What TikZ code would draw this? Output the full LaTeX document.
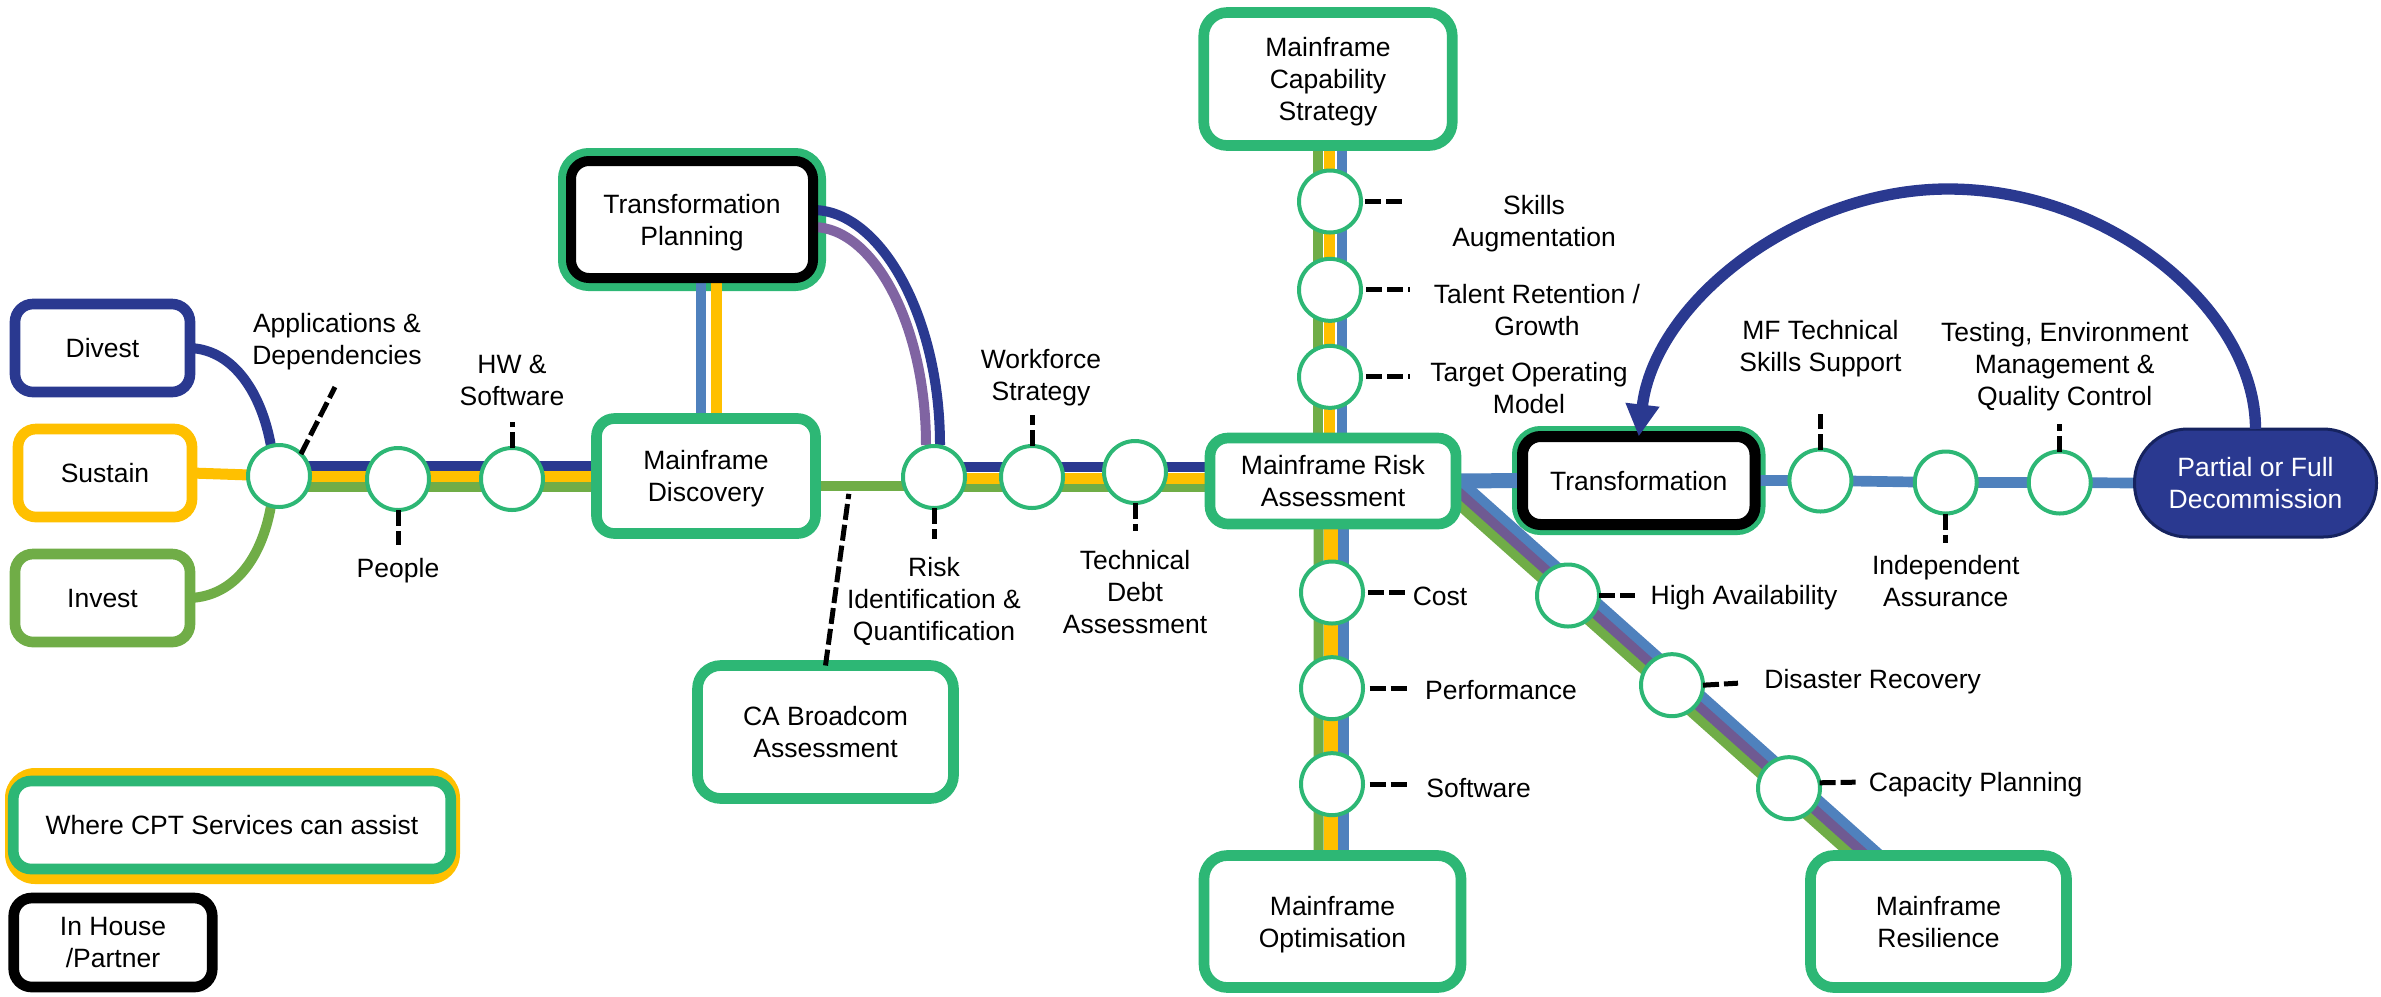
\documentclass[tikz,border=0pt]{standalone}
\usepackage{fontspec}
\setmainfont{Liberation Sans}
\usetikzlibrary{positioning,arrows.meta,backgrounds}
\definecolor{cptgreen}{HTML}{2DB775}
\definecolor{cptnavy}{HTML}{2A3990}
\definecolor{cptdark}{HTML}{16235F}
\definecolor{cptyellow}{HTML}{FFC000}
\definecolor{cptlime}{HTML}{70AD47}
\definecolor{cptblue}{HTML}{4F81BD}
\definecolor{cptpurple}{HTML}{8064A2}
\definecolor{cptplum}{HTML}{6F5A92}
\tikzset{
    txt/.style={font=\fontsize{7.95}{9.6}\selectfont,align=center,inner sep=0pt,outer sep=0pt,text depth=0pt},
    boxsize/.style 2 args={minimum width=#1*0.3pt,minimum height=#2*0.3pt},
    box/.style={txt,draw=cptgreen,fill=white,line width=3.2pt,rounded corners=5.4pt},
    bigbox/.style={box,rounded corners=7pt},
    blackbox/.style={box,draw=black},
    ringbox/.style={draw=cptgreen,line width=#1,rounded corners=5.4pt,inner sep=0pt,outer sep=0pt},
    stn/.style={circle,draw=cptgreen,fill=white,line width=1.2pt,minimum size=18.6pt,inner sep=0pt,outer sep=0pt},
    lbl/.style={txt},
    tick/.style={draw=black,line width=1.5pt,dash pattern=on 4.8pt off 1.5pt},
    navyln/.style={draw=cptnavy,line width=3pt},
    yelln/.style={draw=cptyellow,line width=3.3pt},
    limeln/.style={draw=cptlime,line width=3pt},
    bluln/.style={draw=cptblue,line width=3.2pt},
    purln/.style={draw=cptpurple,line width=3pt},
    plumln/.style={draw=cptplum,line width=2.9pt}
}
\begin{document}
\begin{tikzpicture}[x=0.3pt,y=-0.3pt,on grid]
    \useasboundingbox (0,0) rectangle (2381,996);
    \node[box,draw=cptnavy,boxsize={175}{88}] (divest) at (102.5,348) {Divest};
    \node[box,draw=cptyellow,boxsize={174}{88}] (sustain) at (105,473) {Sustain};
    \node[box,draw=cptlime,boxsize={175}{88}] (invest) at (102.5,598) {Invest};
    \node[stn] (apps) at (279,476) {};
    \node[stn] (people)[below right=0.9pt and 35.7pt of apps] {};
    \node[stn] (hw)[right=34.2pt of people] {};
    \node[box,boxsize={219}{115}] (disc) at (706,476) {Mainframe\\Discovery};
    \node[blackbox,boxsize={242}{117},line width=3pt] (tp) at (692,219.5) {Transformation\\Planning};
    \node[bigbox,boxsize={256}{133}] (ca) at (825.5,732) {CA Broadcom\\Assessment};
    \node[stn] (rid) at (934,477) {};
    \node[stn] (wf)[right=29.4pt of rid] {};
    \node[stn] (tech)[above right=1.5pt and 30.9pt of wf] {};
    \node[box,boxsize={246}{86}] (risk) at (1333,481) {Mainframe Risk\\Assessment};
    \node[bigbox,boxsize={248.5}{133}] (cap) at (1328,79) {Mainframe\\Capability\\Strategy};
    \node[stn] (skills) at (1330,201.5) {};
    \node[stn] (talent)[below=26.5pt of skills] {};
    \node[stn] (tom)[below=26.1pt of talent] {};
    \node[stn] (cost) at (1332,592.5) {};
    \node[stn] (perf)[below=28.7pt of cost] {};
    \node[stn] (soft)[below=28.8pt of perf] {};
    \node[bigbox,boxsize={257}{132}] (opt) at (1332.5,921.5) {Mainframe\\Optimisation};
    \node[stn] (ha) at (1568,595.5) {};
    \node[stn] (dr)[below right=26.9pt and 31.2pt of ha] {};
    \node[stn] (cp)[below right=30.9pt and 35.1pt of dr] {};
    \node[bigbox,boxsize={256}{132}] (res) at (1938.5,921.5) {Mainframe\\Resilience};
    \node[blackbox,boxsize={232.5}{88},line width=3.3pt] (trans) at (1638.75,480.5) {Transformation};
    \node[stn] (mf)[right=54.5pt of trans] {};
    \node[stn] (ind)[below right=0.6pt and 37.6pt of mf] {};
    \node[stn] (test)[right=34.2pt of ind] {};
    \node[txt,fill=cptnavy,draw=cptdark,line width=0.9pt,rounded corners=16pt,text=white,boxsize={242}{108}] (decom) at (2255.5,483) {Partial or Full\\Decommission};
    \node[fill=cptyellow,rounded corners=9pt,inner sep=0pt,boxsize={455}{116}] (legback) at (232.5,826) {};
    \node[box,boxsize={437.5}{88}] (legcpt) at (232,825) {Where CPT Services can assist};
    \node[blackbox,boxsize={198.5}{89}] (leghouse) at (113,942.5) {In House\\/Partner};

    \begin{scope}[on background layer]
        \node[ringbox=7.8pt,boxsize={242}{117}] (tpring) at (tp) {};
        \node[ringbox=6.3pt,boxsize={232.5}{88}] (transring) at (trans) {};
        \draw[navyln] (divest.east) .. controls +(45,2) and +(-9,-51) .. (apps.105);
        \draw[limeln] (invest.east) .. controls +(45,-2) and +(-9,51) .. (apps.255);
        \draw[yelln] (sustain.east) -- (apps);
        \draw[navyln] ([shift={(0,-10)}]apps.center) -- ([shift={(0,-10)}]disc.center);
        \draw[limeln] ([shift={(0,11)}]apps.center) -- ([shift={(0,11)}]disc.center);
        \draw[yelln] (apps) -- (disc);
        \draw[bluln] ([shift={(9,0)}]tp.center) -- ([shift={(-5,0)}]disc.center);
        \draw[yelln] ([shift={(24,0)}]tp.center) -- ([shift={(10,0)}]disc.center);
        \draw[navyln] ([shift={(0,-9.5)}]tp.east) .. controls +(67,0) and +(0,-129) .. ([shift={(6,-32)}]rid.center);
        \draw[purln] ([shift={(0,7.5)}]tp.east) .. controls +(60,0) and +(0,-121) .. ([shift={(-8,-32)}]rid.center);
        \draw[limeln] ([shift={(0,10)}]disc.center) -- ([shift={(0,9)}]rid.center);
        \draw[navyln] ([shift={(0,-10)}]rid.center) -- ([shift={(0,-14)}]risk.center);
        \draw[limeln] ([shift={(0,10)}]rid.center) -- ([shift={(0,6)}]risk.center);
        \draw[yelln] ([shift={(0,1)}]rid.center) -- ([shift={(0,-3)}]risk.center);
        \draw[limeln] ([shift={(-10,0)}]cap.center) -- ([shift={(-15,0)}]risk.center);
        \draw[bluln] ([shift={(14,0)}]cap.center) -- ([shift={(9,0)}]risk.center);
        \draw[yelln] ([shift={(1,0)}]cap.center) -- ([shift={(-4,0)}]risk.center);
        \draw[limeln] ([shift={(-14.5,0)}]risk.center) -- ([shift={(-14,0)}]opt.center);
        \draw[bluln] ([shift={(10.5,0)}]risk.center) -- ([shift={(11,0)}]opt.center);
        \draw[yelln,line width=4pt] ([shift={(-2,0)}]risk.center) -- ([shift={(-1.5,0)}]opt.center);
        \draw[limeln] ([shift={(87,-11)}]risk.center) -- ([shift={(-70,-51.5)}]res.center);
        \draw[bluln] ([shift={(115,-11)}]risk.center) -- ([shift={(-42,-51.5)}]res.center);
        \draw[plumln] ([shift={(101,-11)}]risk.center) -- ([shift={(-56,-51.5)}]res.center);
        \draw[bluln,line width=4.5pt] (risk.east) -- (trans.west);
        \draw[bluln] (trans.east) -- (mf) -- (ind) -- (test) -- (decom.west);
    \end{scope}

    \node[lbl] (appslbl)[above right=41.1pt and 17.4pt of apps] {Applications \&\\Dependencies};
    \node[lbl] (peoplelbl)[below=26.7pt of people] {People};
    \node[lbl] (hwlbl)[above=29.6pt of hw] {HW \&\\Software};
    \node[lbl] (ridlbl)[below=36.7pt of rid] {Risk\\Identification \&\\Quantification};
    \node[lbl] (wflbl)[above right=30.6pt and 2.7pt of wf] {Workforce\\Strategy};
    \node[lbl] (techlbl)[below=36.1pt of tech] {Technical\\Debt\\Assessment};
    \node[lbl] (skillslbl)[below right=5.9pt and 61.2pt of skills] {Skills\\Augmentation};
    \node[lbl] (talentlbl)[below right=6pt and 62.1pt of talent] {Talent Retention /\\Growth};
    \node[lbl] (tomlbl)[below right=3.3pt and 59.7pt of tom] {Target Operating\\Model};
    \node[lbl] (costlbl)[below right=1pt and 32.4pt of cost] {Cost};
    \node[lbl] (perflbl)[below right=0.6pt and 50.7pt of perf] {Performance};
    \node[lbl] (softlbl)[below right=1.2pt and 44pt of soft] {Software};
    \node[lbl] (halbl)[above right=0.1pt and 52.8pt of ha] {High Availability};
    \node[lbl] (drlbl)[above right=1.9pt and 60.2pt of dr] {Disaster Recovery};
    \node[lbl] (cplbl)[above right=1.8pt and 56pt of cp] {Capacity Planning};
    \node[lbl] (mflbl)[above=40.4pt of mf] {MF Technical\\Skills Support};
    \node[lbl] (indlbl)[below=29.6pt of ind] {Independent\\Assurance};
    \node[lbl] (testlbl)[above right=35.7pt and 1.5pt of test] {Testing, Environment\\Management \&\\Quality Control};

    \coordinate[above right=26.7pt and 16.8pt of apps] (appsend);
    \coordinate[below=19.8pt of people] (peopleend);
    \coordinate[above=17.2pt of hw] (hwend);
    \coordinate[above right=51.5pt and 7pt of ca.north] (caend);
    \coordinate[below=18.6pt of rid] (ridend);
    \coordinate[above=18.6pt of wf] (wfend);
    \coordinate[below=17.7pt of tech] (techend);
    \coordinate[right=22.8pt of skills] (skillsend);
    \coordinate[right=24pt of talent] (talentend);
    \coordinate[right=24pt of tom] (tomend);
    \coordinate[right=22.8pt of cost] (costend);
    \coordinate[right=23.7pt of perf] (perfend);
    \coordinate[right=23.7pt of soft] (softend);
    \coordinate[right=20.1pt of ha] (haend);
    \coordinate[above right=0.6pt and 19.8pt of dr] (drend);
    \coordinate[above right=1.8pt and 20pt of cp] (cpend);
    \coordinate[above=20.1pt of mf] (mfend);
    \coordinate[below=18.2pt of ind] (indend);
    \coordinate[above=17.7pt of test] (testend);
    \coordinate (looptop) at (1948,189);

    \draw[tick] (apps.45) -- (appsend);
    \draw[tick] (people.south) -- (peopleend);
    \draw[tick] (hw.north) -- (hwend);
    \draw[tick] (ca.north) -- (caend);
    \draw[tick] (rid.south) -- (ridend);
    \draw[tick] (wf.north) -- (wfend);
    \draw[tick] (tech.south) -- (techend);
    \draw[tick,shorten <=1.2pt] (skills.east) -- (skillsend);
    \draw[tick,shorten <=1.5pt] (talent.east) -- (talentend);
    \draw[tick,shorten <=1.5pt] (tom.east) -- (tomend);
    \draw[tick,shorten <=1.5pt] (cost.east) -- (costend);
    \draw[tick,shorten <=2pt] (perf.east) -- (perfend);
    \draw[tick,shorten <=2pt] (soft.east) -- (softend);
    \draw[tick] (ha.east) -- (haend);
    \draw[tick] (dr.east) -- (drend);
    \draw[tick] (cp.10) -- (cpend);
    \draw[tick] (mf.north) -- (mfend);
    \draw[tick] (ind.south) -- (indend);
    \draw[tick] (test.north) -- (testend);

    \draw[draw=cptnavy,line width=3.4pt,-{Triangle[length=9.6pt,width=9.6pt,fill=cptnavy]}] (decom.north) .. controls +(0,-119) and +(162,0) .. (looptop) .. controls +(-148,0) and +(16,-136) .. (trans.north);
\end{tikzpicture}
\end{document}
